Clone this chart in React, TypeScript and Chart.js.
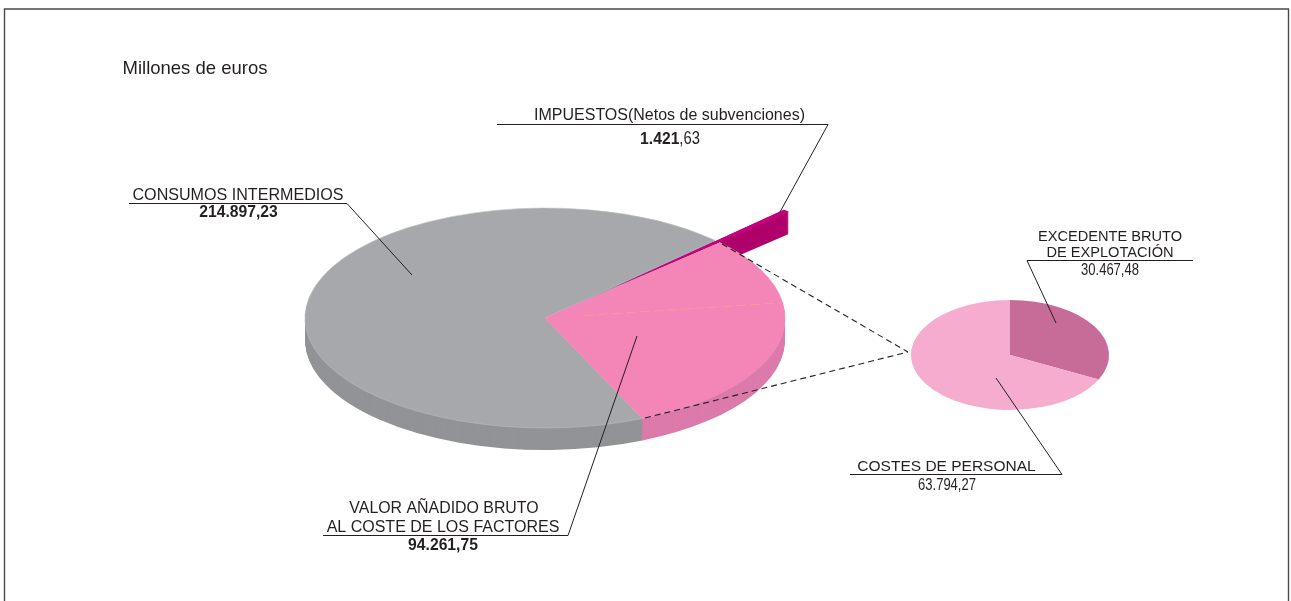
import React, { useEffect, useRef } from "react";
import { Chart, registerables } from "chart.js";

Chart.register(...registerables);

// ---- data ----
const mainCategories = ["CONSUMOS INTERMEDIOS", "IMPUESTOS(Netos de subvenciones)", "EXCEDENTE BRUTO DE EXPLOTACIÓN", "COSTES DE PERSONAL"];
const mainValues = [214897.23, 1421.63, 30467.48, 63794.27];
const mainTopColors = ["#A7A8AB", "#C6007E", "#F386B6", "#F386B6"];
const mainWallColors = ["#929396", "#B0006B", "#DC7AAB", "#DC7AAB"];
const mainEdgeColors = ["#BDBEC0", "#C6007E", "#F7A6CB", "#F7A6CB"];
const mainExplode = [0, 96, 0, 0];
const subCategories = ["EXCEDENTE BRUTO DE EXPLOTACIÓN", "COSTES DE PERSONAL"];
const subValues = [30467.48, 63794.27];
const subColors = ["#C76C99", "#F6ACCE"];

// ---- layout ----
const W = 1291;
const H = 601;
const MAIN = { cx: 545, cy: 318, r: 240, ry: 110, depth: 22, rotation: 156 };
const SUB = { cx: 1010, cy: 355, r: 99, ry: 55, rotation: 0 };
const INK = "#231F20";
const SANS = "'Liberation Sans', Arial, sans-serif";

type Piece = { t: string; font: string; sx?: number };
type Label = { x: number; y: number; pieces: Piece[] };

const REG = `16px ${SANS}`;
const SMALL = `14.6px ${SANS}`;
const BOLD = `bold 15.7px ${SANS}`;

const labels: Label[] = [
  { x: 195, y: 74, pieces: [{ t: "Millones de euros", font: `18.5px ${SANS}` }] },
  { x: 669.5, y: 120, pieces: [{ t: "IMPUESTOS(Netos de subvenciones)", font: REG }] },
  { x: 670, y: 144, pieces: [{ t: "1.421", font: BOLD }, { t: ",63", font: `18px ${SANS}`, sx: 0.82 }] },
  { x: 238, y: 200, pieces: [{ t: "CONSUMOS INTERMEDIOS", font: `16.1px ${SANS}` }] },
  { x: 238.5, y: 217, pieces: [{ t: "214.897,23", font: BOLD }] },
  { x: 444, y: 513, pieces: [{ t: "VALOR AÑADIDO BRUTO", font: `15.9px ${SANS}` }] },
  { x: 443, y: 532, pieces: [{ t: "AL COSTE DE LOS FACTORES", font: REG }] },
  { x: 443, y: 550, pieces: [{ t: "94.261,75", font: BOLD }] },
  { x: 1110, y: 241, pieces: [{ t: "EXCEDENTE BRUTO", font: SMALL }] },
  { x: 1110, y: 257, pieces: [{ t: "DE EXPLOTACIÓN", font: SMALL }] },
  { x: 1110, y: 274.5, pieces: [{ t: "30.467,48", font: `16.5px ${SANS}`, sx: 0.79 }] },
  { x: 946.5, y: 471, pieces: [{ t: "COSTES DE PERSONAL", font: `15.5px ${SANS}` }] },
  { x: 947, y: 490, pieces: [{ t: "63.794,27", font: `16.5px ${SANS}`, sx: 0.79 }] },
];

const leaders: number[][][] = [
  [[497, 124.5], [828, 124.5], [780, 212]],
  [[129, 203.5], [347, 203.5], [412, 275]],
  [[323, 535.5], [568, 535.5], [637, 336]],
  [[1193, 260.5], [1027, 260.5], [1056, 323]],
  [[850, 474.5], [1062, 474.5], [996, 378]],
];
const dashed: number[][][] = [
  [[722, 244], [908, 352]],
  [[645, 418], [908, 352]],
];

function paintArc(arc: any, ctx: CanvasRenderingContext2D, color: string, bw = 0, bc = "transparent") {
  const saved = arc.options;
  arc.options = { ...saved, backgroundColor: color, borderWidth: bw, borderColor: bc, offset: 0 };
  arc.draw(ctx);
  arc.options = saved;
}

function withTilt(ctx: CanvasRenderingContext2D, cx: number, cy: number, k: number, dx: number, dy: number, fn: () => void) {
  ctx.save();
  ctx.translate(cx + dx, cy + dy);
  ctx.scale(1, k);
  ctx.translate(-cx, -cy);
  fn();
  ctx.restore();
}

const mainPie = {
  id: "mainPie",
  beforeDatasetsDraw(chart: any) {
    const ctx: CanvasRenderingContext2D = chart.ctx;
    const arcs: any[] = chart.getDatasetMeta(0).data;
    const k = MAIN.ry / MAIN.r;
    const shift = (i: number) => {
      const a = (arcs[i].startAngle + arcs[i].endAngle) / 2;
      return [Math.cos(a) * mainExplode[i], Math.sin(a) * mainExplode[i] * k];
    };
    // walls: pink first, grey over it, then the exploded slice
    [3, 2, 0, 1].forEach((i) => {
      const [sx, sy] = shift(i);
      for (let d = MAIN.depth; d >= 1; d--) {
        withTilt(ctx, arcs[i].x, arcs[i].y, k, sx, sy + d, () => paintArc(arcs[i], ctx, mainWallColors[i]));
      }
    });
    // top faces
    [0, 2, 3, 1].forEach((i) => {
      const [sx, sy] = shift(i);
      withTilt(ctx, arcs[i].x, arcs[i].y, k, sx, sy, () =>
        paintArc(arcs[i], ctx, mainTopColors[i], i === 1 ? 0 : 0.8, mainEdgeColors[i])
      );
    });
    // re-lay the pink faces so that the seam is the only inner edge
    withTilt(ctx, arcs[2].x, arcs[2].y, k, 0, 0, () => {
      paintArc(arcs[2], ctx, mainTopColors[2]);
      paintArc(arcs[3], ctx, mainTopColors[3]);
      const a = arcs[2].endAngle;
      ctx.beginPath();
      ctx.setLineDash([9, 5]);
      ctx.moveTo(arcs[2].x + Math.cos(a) * 40, arcs[2].y + Math.sin(a) * 40);
      ctx.lineTo(arcs[2].x + Math.cos(a) * arcs[2].outerRadius, arcs[2].y + Math.sin(a) * arcs[2].outerRadius);
      ctx.strokeStyle = "rgba(246,170,130,0.75)";
      ctx.lineWidth = 1;
      ctx.stroke();
      ctx.setLineDash([]);
    });
    // slice over the pink once more
    const [sx, sy] = shift(1);
    withTilt(ctx, arcs[1].x, arcs[1].y, k, sx, sy, () => paintArc(arcs[1], ctx, mainTopColors[1]));
    return false;
  },
};

const subPie = {
  id: "subPie",
  beforeDatasetsDraw(chart: any) {
    const ctx: CanvasRenderingContext2D = chart.ctx;
    const arcs: any[] = chart.getDatasetMeta(0).data;
    arcs.forEach((arc, i) => {
      withTilt(ctx, arc.x, arc.y, SUB.ry / SUB.r, 0, 0, () => paintArc(arc, ctx, subColors[i]));
    });
    return false;
  },
  afterDraw(chart: any) {
    const ctx: CanvasRenderingContext2D = chart.ctx;
    ctx.save();
    // frame, open at the bottom
    ctx.strokeStyle = "#4A4A4A";
    ctx.lineWidth = 1.4;
    ctx.beginPath();
    ctx.moveTo(4.5, H);
    ctx.lineTo(4.5, 9);
    ctx.lineTo(1288.5, 9);
    ctx.lineTo(1288.5, H);
    ctx.stroke();
    // leaders
    ctx.strokeStyle = INK;
    ctx.lineWidth = 1;
    leaders.forEach((pts) => {
      ctx.beginPath();
      pts.forEach(([x, y], i) => (i ? ctx.lineTo(x, y) : ctx.moveTo(x, y)));
      ctx.stroke();
    });
    ctx.lineWidth = 1.1;
    ctx.setLineDash([6, 4]);
    dashed.forEach((pts) => {
      ctx.beginPath();
      pts.forEach(([x, y], i) => (i ? ctx.lineTo(x, y) : ctx.moveTo(x, y)));
      ctx.stroke();
    });
    ctx.setLineDash([]);
    // text
    ctx.fillStyle = INK;
    ctx.textBaseline = "alphabetic";
    ctx.textAlign = "left";
    labels.forEach((l) => {
      let total = 0;
      l.pieces.forEach((p) => {
        ctx.font = p.font;
        total += ctx.measureText(p.t).width * (p.sx ?? 1);
      });
      let x = l.x - total / 2;
      l.pieces.forEach((p) => {
        ctx.font = p.font;
        const sx = p.sx ?? 1;
        ctx.save();
        ctx.translate(x, l.y);
        ctx.scale(sx, 1);
        ctx.fillText(p.t, 0, 0);
        ctx.restore();
        x += ctx.measureText(p.t).width * sx;
      });
    });
    ctx.restore();
  },
};

const baseOptions = (pad: any, radius: number, rotation: number) => ({
  responsive: false,
  animation: false as const,
  events: [],
  rotation,
  radius,
  cutout: 0,
  layout: { padding: pad },
  plugins: { legend: { display: false }, title: { display: false }, tooltip: { enabled: false } },
});

export default function App() {
  const mainRef = useRef<HTMLCanvasElement>(null);
  const subRef = useRef<HTMLCanvasElement>(null);

  useEffect(() => {
    document.body.style.margin = "0";
    document.body.style.background = "#fff";
    const main = new Chart(mainRef.current!, {
      type: "pie",
      data: {
        labels: mainCategories,
        datasets: [{ data: mainValues, backgroundColor: mainTopColors, borderWidth: 0 }],
      },
      options: baseOptions(
        { left: MAIN.cx - MAIN.r, right: W - MAIN.cx - MAIN.r, top: MAIN.cy - MAIN.r, bottom: H - MAIN.cy - MAIN.r },
        MAIN.r,
        MAIN.rotation
      ) as any,
      plugins: [mainPie],
    });
    const sub = new Chart(subRef.current!, {
      type: "pie",
      data: {
        labels: subCategories,
        datasets: [{ data: subValues, backgroundColor: subColors, borderWidth: 0 }],
      },
      options: baseOptions(
        { left: SUB.cx - SUB.r, right: W - SUB.cx - SUB.r, top: SUB.cy - SUB.r, bottom: H - SUB.cy - SUB.r },
        SUB.r,
        SUB.rotation
      ) as any,
      plugins: [subPie],
    });
    return () => {
      main.destroy();
      sub.destroy();
    };
  }, []);

  const layer: React.CSSProperties = { position: "absolute", left: 0, top: 0, width: W, height: H };
  return (
    <div style={{ position: "relative", width: W, height: H, overflow: "hidden", background: "#fff" }}>
      <canvas ref={mainRef} width={W} height={H} style={layer} />
      <canvas ref={subRef} width={W} height={H} style={layer} />
    </div>
  );
}
